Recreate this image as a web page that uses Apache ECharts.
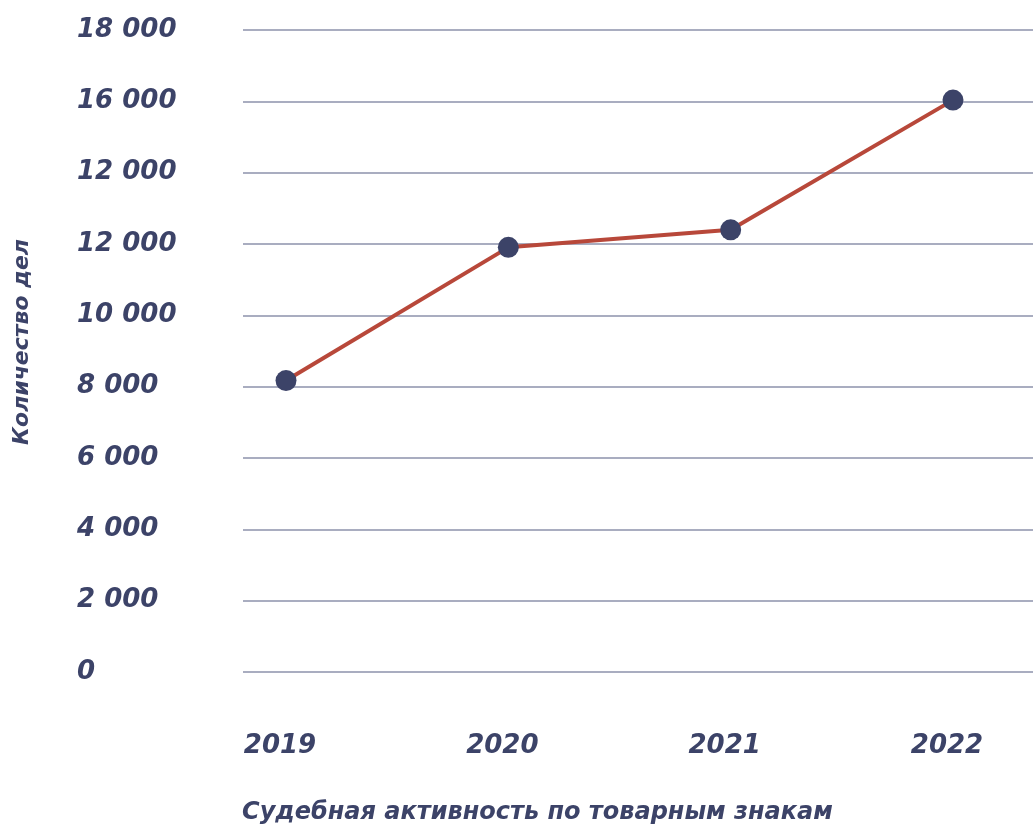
<!DOCTYPE html>
<html>
<head>
<meta charset="utf-8">
<script src="https://cdn.jsdelivr.net/npm/echarts@6/dist/echarts.min.js"></script>
<style>
  html, body { margin: 0; padding: 0; background: #fff; }
  #chart { width: 1033px; height: 830px; }
</style>
</head>
<body>
<div id="chart"></div>
<script>
// данные с картинки
var years = ['2019', '2020', '2021', '2022'];
var cases = [8000, 11800, 12300, 16000];
// подписи оси как на исходнике (включая повтор "12 000")
var yTickLabels = ['0', '2 000', '4 000', '6 000', '8 000', '10 000', '12 000', '12 000', '16 000', '18 000'];

var navy = '#3c4368';
var red = '#b8483a';
var font = 'DejaVu Sans';

var chart = echarts.init(document.getElementById('chart'));

var option = {
  backgroundColor: '#fff',
  animation: false,
  grid: [
    // сетка с горизонтальными линиями
    { left: 243, right: 0, top: 30, bottom: 158 },
    // сетка для линии
    { left: 286, right: 80, top: 30, bottom: 158 }
  ],
  xAxis: [
    { gridIndex: 0, type: 'category', data: years, show: false },
    {
      gridIndex: 1,
      type: 'category',
      data: years,
      boundaryGap: false,
      axisLine: { show: false },
      axisTick: { show: false },
      axisLabel: {
        color: navy,
        fontFamily: font,
        fontStyle: 'italic',
        fontWeight: 'bold',
        fontSize: 26,
        margin: 72,
        padding: [0, 12, 0, 0]
      },
      name: 'Судебная активность по товарным знакам',
      nameLocation: 'middle',
      nameGap: 140,
      nameTextStyle: {
        color: navy,
        fontFamily: font,
        fontStyle: 'italic',
        fontWeight: 'bold',
        fontSize: 24,
        padding: [0, 164, 0, 0]
      }
    }
  ],
  yAxis: [
    {
      gridIndex: 0,
      type: 'value',
      min: 0,
      max: 18000,
      interval: 2000,
      axisLine: { show: false },
      axisTick: { show: false },
      splitLine: { lineStyle: { color: '#8d92ab', width: 1.5 } },
      axisLabel: {
        color: navy,
        fontFamily: font,
        fontStyle: 'italic',
        fontWeight: 'bold',
        fontSize: 26,
        align: 'left',
        margin: 166,
        formatter: function (v) { return yTickLabels[Math.round(v / 2000)]; }
      },
      name: 'Количество дел',
      nameLocation: 'middle',
      nameGap: 210,
      nameRotate: 90,
      nameTextStyle: {
        color: navy,
        fontFamily: font,
        fontStyle: 'italic',
        fontWeight: 'bold',
        fontSize: 22,
        padding: [0, 0, 0, 18]
      }
    },
    {
      gridIndex: 1,
      type: 'value',
      min: 0,
      max: 18000,
      interval: 2000,
      show: false
    }
  ],
  series: [
    {
      type: 'line',
      xAxisIndex: 1,
      yAxisIndex: 1,
      data: cases,
      symbol: 'circle',
      symbolSize: 21,
      lineStyle: { color: red, width: 4 },
      itemStyle: { color: navy },
      z: 5
    }
  ]
};

chart.setOption(option);
</script>
</body>
</html>
